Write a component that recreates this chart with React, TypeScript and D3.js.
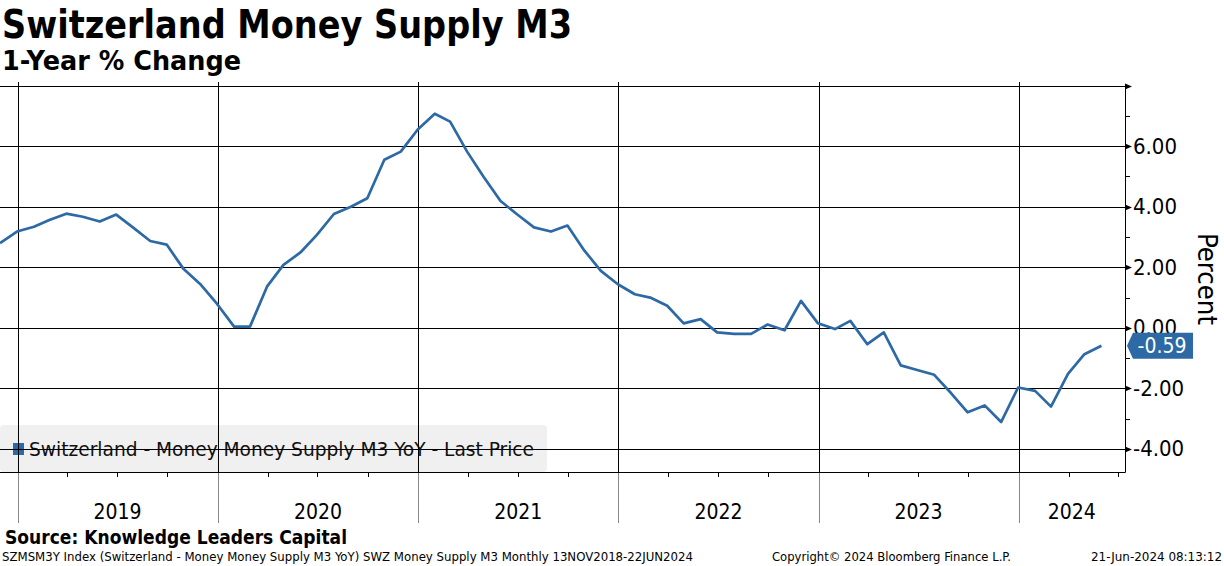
import React, { useEffect, useRef } from 'react';
import * as d3 from 'd3';

// Monthly YoY % change, month-end, Nov 2018 .. May 2024
const startYear = 2018;
const startMonth = 10; // November (0-based)
const values = [
  2.8, 3.18,
  3.34, 3.56, 3.77, 3.67, 3.51, 3.74, 3.31, 2.87, 2.75, 1.94, 1.45, 0.79,
  0.04, 0.04, 1.36, 2.08, 2.49, 3.07, 3.76, 4.0, 4.28, 5.55, 5.82, 6.55,
  7.07, 6.81, 5.82, 4.99, 4.19, 3.75, 3.32, 3.18, 3.38, 2.55, 1.88, 1.44,
  1.11, 1.0, 0.73, 0.15, 0.29, -0.15, -0.2, -0.2, 0.11, -0.08, 0.89, 0.15,
  -0.04, 0.23, -0.54, -0.15, -1.24, -1.39, -1.55, -2.16, -2.79, -2.56, -3.11, -1.97,
  -2.08, -2.6, -1.52, -0.87, -0.59,
];
const years = [2019, 2020, 2021, 2022, 2023, 2024];
const majorTicks = [-4, -2, 0, 2, 4, 6, 8];
const minorTicks = [-3, -1, 1, 3, 5, 7];

const title = 'Switzerland Money Supply M3';
const subtitle = '1-Year % Change';
const legendLabel = 'Switzerland - Money Money Supply M3 YoY - Last Price';
const source = 'Source: Knowledge Leaders Capital';
const footLeft = 'SZMSM3Y Index (Switzerland - Money Money Supply M3 YoY) SWZ Money Supply M3  Monthly 13NOV2018-22JUN2024';
const footMid = 'Copyright\u00a9 2024 Bloomberg Finance L.P.';
const footRight = '21-Jun-2024 08:13:12';

const BLUE = '#2c69a5';
const FONT = "'DejaVu Sans Condensed', 'DejaVu Sans', sans-serif";
const WIDE = "'DejaVu Sans', sans-serif";

export default function App() {
  const svgRef = useRef<SVGSVGElement>(null);

  useEffect(() => {
    if (!svgRef.current) return;
    const svg = d3.select(svgRef.current);
    svg.selectAll('*').remove();

    const data = values.map((v, i) => ({
      date: new Date(startYear, startMonth + i + 1, 0),
      value: v,
    }));

    const plotRight = 1125;
    const plotTop = 85.6;
    const plotBottom = 471.7;

    const x = d3
      .scaleTime()
      .domain([new Date(2018, 10, 30), new Date(2024, 6, 13)])
      .range([0, plotRight]);
    const y = d3.scaleLinear().domain([-4.75, 8]).range([plotBottom, plotTop]);

    // Legend background (gridlines show over it)
    svg.append('rect')
      .attr('x', 0)
      .attr('y', 425)
      .attr('width', 547)
      .attr('height', 47)
      .attr('rx', 4)
      .attr('fill', '#f0f0f0');
    svg.append('rect')
      .attr('x', 13)
      .attr('y', 443)
      .attr('width', 11)
      .attr('height', 12)
      .attr('fill', BLUE);
    svg.append('text')
      .attr('x', 29)
      .attr('y', 449)
      .attr('dominant-baseline', 'central')
      .attr('textLength', 505)
      .attr('lengthAdjust', 'spacingAndGlyphs')
      .style('font-family', FONT)
      .style('font-size', '20px')
      .style('fill', '#111')
      .text(legendLabel);

    // Horizontal gridlines
    svg.selectAll('.hgrid')
      .data(majorTicks)
      .enter()
      .append('line')
      .attr('x1', 0)
      .attr('x2', plotRight)
      .attr('y1', (d) => Math.round(y(d)) + 0.5)
      .attr('y2', (d) => Math.round(y(d)) + 0.5)
      .attr('stroke', '#000')
      .attr('stroke-width', 1);

    // Bottom axis line
    svg.append('line')
      .attr('x1', 0)
      .attr('x2', plotRight)
      .attr('y1', Math.round(plotBottom) + 0.5)
      .attr('y2', Math.round(plotBottom) + 0.5)
      .attr('stroke', '#000');

    // Year separators
    const yearDates = years.map((yr) => new Date(yr, 0, 1));
    svg.selectAll('.vgrid')
      .data(yearDates)
      .enter()
      .append('line')
      .attr('x1', (d) => Math.round(x(d)) + 0.5)
      .attr('x2', (d) => Math.round(x(d)) + 0.5)
      .attr('y1', 82)
      .attr('y2', Math.round(plotBottom) + 1)
      .attr('stroke', '#000');
    svg.selectAll('.vsep')
      .data(yearDates)
      .enter()
      .append('line')
      .attr('x1', (d) => Math.round(x(d)) + 0.5)
      .attr('x2', (d) => Math.round(x(d)) + 0.5)
      .attr('y1', Math.round(plotBottom) + 1)
      .attr('y2', 523)
      .attr('stroke', '#888');

    // Quarterly ticks
    const quarters = d3.timeMonth.every(3)!.range(new Date(2019, 0, 1), new Date(2024, 6, 2));
    svg.selectAll('.qtick')
      .data(quarters.filter((d) => d.getMonth() !== 0))
      .enter()
      .append('line')
      .attr('x1', (d) => Math.round(x(d)) + 0.5)
      .attr('x2', (d) => Math.round(x(d)) + 0.5)
      .attr('y1', Math.round(plotBottom))
      .attr('y2', Math.round(plotBottom) + 5)
      .attr('stroke', '#000');

    // Year labels, centred in each year span
    svg.selectAll('.ylab')
      .data(years)
      .enter()
      .append('text')
      .attr('x', (yr) => {
        const a = x(new Date(yr, 0, 1));
        const b = Math.min(x(new Date(yr + 1, 0, 1)), plotRight);
        return (a + b) / 2;
      })
      .attr('y', 512)
      .attr('text-anchor', 'middle')
      .attr('dominant-baseline', 'central')
      .style('font-family', FONT)
      .style('font-size', '21px')
      .style('fill', '#000')
      .text((d) => String(d));

    // Series line
    const line = d3
      .line<{ date: Date; value: number }>()
      .x((d) => x(d.date))
      .y((d) => y(d.value));
    svg.append('path')
      .datum(data)
      .attr('d', line)
      .attr('fill', 'none')
      .attr('stroke', BLUE)
      .attr('stroke-width', 2.7)
      .attr('stroke-linejoin', 'round');

    // Right axis
    svg.append('line')
      .attr('x1', plotRight + 0.5)
      .attr('x2', plotRight + 0.5)
      .attr('y1', plotTop - 1)
      .attr('y2', plotBottom + 1)
      .attr('stroke', '#000');
    svg.selectAll('.arrow')
      .data(majorTicks)
      .enter()
      .append('path')
      .attr('d', (d) => {
        const yy = Math.round(y(d)) + 0.5;
        return `M${plotRight},${yy - 3}L${plotRight + 7},${yy}L${plotRight},${yy + 3}Z`;
      })
      .attr('fill', '#000');
    svg.selectAll('.minor')
      .data(minorTicks)
      .enter()
      .append('line')
      .attr('x1', plotRight)
      .attr('x2', plotRight + 5)
      .attr('y1', (d) => Math.round(y(d)) + 0.5)
      .attr('y2', (d) => Math.round(y(d)) + 0.5)
      .attr('stroke', '#000');
    svg.selectAll('.tlab')
      .data(majorTicks.filter((d) => d < 8))
      .enter()
      .append('text')
      .attr('x', plotRight + 8)
      .attr('y', (d) => y(d))
      .attr('dominant-baseline', 'central')
      .style('font-family', FONT)
      .style('font-size', '22px')
      .style('fill', '#000')
      .text((d) => d3.format('.2f')(d).replace('−', '-'));

    svg.append('text')
      .attr('transform', `translate(1207,279) rotate(90)`)
      .attr('text-anchor', 'middle')
      .attr('dominant-baseline', 'central')
      .attr('textLength', 92)
      .attr('lengthAdjust', 'spacingAndGlyphs')
      .style('font-family', FONT)
      .style('font-size', '26px')
      .style('fill', '#000')
      .text('Percent');

    // Last value tag
    const last = data[data.length - 1];
    const ly = y(last.value);
    svg.append('path')
      .attr('d', `M${plotRight + 2},${ly}L${plotRight + 8},${ly - 13}L1193,${ly - 13}L1193,${ly + 13}L${plotRight + 8},${ly + 13}Z`)
      .attr('fill', BLUE);
    svg.append('text')
      .attr('x', 1162)
      .attr('y', ly)
      .attr('text-anchor', 'middle')
      .attr('dominant-baseline', 'central')
      .style('font-family', FONT)
      .style('font-size', '21px')
      .style('fill', '#fff')
      .text(last.value.toFixed(2));

    // Titles
    svg.append('text')
      .attr('x', 2)
      .attr('y', 38)
      .attr('textLength', 570)
      .attr('lengthAdjust', 'spacingAndGlyphs')
      .style('font-family', WIDE)
      .style('font-weight', 'bold')
      .style('font-size', '39px')
      .text(title);
    svg.append('text')
      .attr('x', 2)
      .attr('y', 70)
      .attr('textLength', 239)
      .attr('lengthAdjust', 'spacingAndGlyphs')
      .style('font-family', WIDE)
      .style('font-weight', 'bold')
      .style('font-size', '27px')
      .text(subtitle);

    // Footer
    svg.append('text')
      .attr('x', 5)
      .attr('y', 544)
      .attr('textLength', 342)
      .attr('lengthAdjust', 'spacingAndGlyphs')
      .style('font-family', WIDE)
      .style('font-weight', 'bold')
      .style('font-size', '19px')
      .text(source);
    const foot = [
      { t: footLeft, x: 2, w: 691 },
      { t: footMid, x: 772, w: 239 },
      { t: footRight, x: 1091, w: 131 },
    ];
    svg.selectAll('.foot')
      .data(foot)
      .enter()
      .append('text')
      .attr('x', (d) => d.x)
      .attr('y', 561)
      .attr('textLength', (d) => d.w)
      .attr('lengthAdjust', 'spacingAndGlyphs')
      .style('font-family', FONT)
      .style('font-size', '13px')
      .style('fill', '#000')
      .text((d) => d.t);
  }, []);

  return (
    <div style={{ position: 'absolute', left: 0, top: 0 }}>
      <svg ref={svgRef} width={1224} height={566} style={{ display: 'block', background: '#fff' }} />
    </div>
  );
}
